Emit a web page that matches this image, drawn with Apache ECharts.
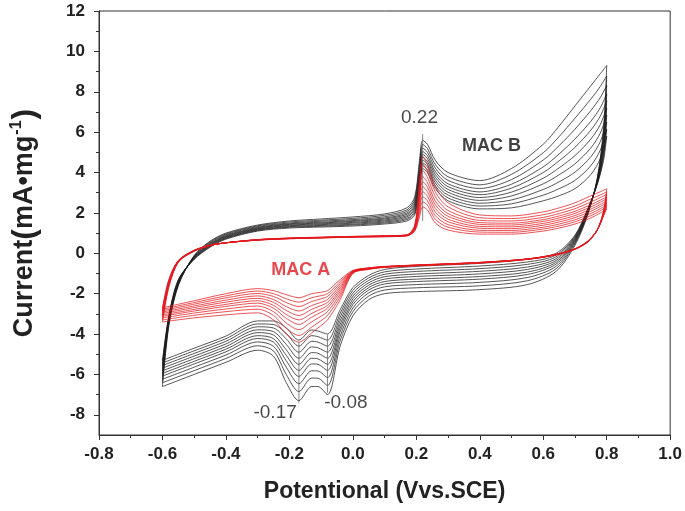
<!DOCTYPE html>
<html>
<head>
<meta charset="utf-8">
<script src="https://cdn.jsdelivr.net/npm/echarts@6/dist/echarts.min.js"></script>
<style>
html,body{margin:0;padding:0;background:#fff;}
#chart{width:685px;height:511px;}
</style>
</head>
<body>
<div id="chart"></div>
<script>
// Potential values (V vs. SCE) for the anodic (forward) and cathodic (reverse) sweeps
const potentialForward = [-0.6,-0.58,-0.55,-0.5,-0.45,-0.4,-0.3,-0.2,-0.1,0.0,0.1,0.17,0.195,0.21,0.22,0.235,0.26,0.3,0.4,0.5,0.6,0.65,0.7,0.75,0.78,0.8];
const potentialReverse = [0.8,0.79,0.77,0.74,0.7,0.64,0.55,0.4,0.2,0.1,0.05,0.0,-0.04,-0.08,-0.11,-0.13,-0.17,-0.21,-0.25,-0.3,-0.4,-0.5,-0.6];

// MAC B currents (mA/mg), one row per cycle, forward sweep
const macBForward = [
[-5.3,-3.1,-1.3,-0.3,0.3,0.7,1.1,1.25,1.3,1.35,1.45,1.6,1.9,3.0,4.2,4.0,3.2,2.6,2.2,2.25,2.6,2.85,3.2,3.9,4.7,5.8],
[-5.43,-3.15,-1.33,-0.28,0.33,0.73,1.13,1.29,1.34,1.4,1.5,1.67,1.99,3.16,4.34,4.14,3.34,2.74,2.34,2.45,2.88,3.2,3.61,4.34,5.12,6.15],
[-5.56,-3.2,-1.36,-0.26,0.36,0.76,1.16,1.32,1.38,1.44,1.55,1.73,2.08,3.32,4.48,4.28,3.48,2.88,2.48,2.64,3.16,3.54,4.02,4.78,5.54,6.5],
[-5.69,-3.25,-1.39,-0.24,0.39,0.79,1.19,1.36,1.42,1.49,1.6,1.8,2.17,3.48,4.62,4.42,3.62,3.02,2.62,2.84,3.44,3.89,4.43,5.22,5.96,6.85],
[-5.82,-3.3,-1.42,-0.22,0.42,0.82,1.22,1.39,1.46,1.53,1.65,1.86,2.26,3.64,4.76,4.56,3.76,3.16,2.76,3.03,3.72,4.23,4.84,5.66,6.38,7.2],
[-5.95,-3.35,-1.45,-0.2,0.45,0.85,1.25,1.43,1.5,1.58,1.7,1.93,2.35,3.8,4.9,4.7,3.9,3.3,2.9,3.23,4.0,4.58,5.25,6.1,6.8,7.55],
[-6.08,-3.4,-1.48,-0.18,0.48,0.88,1.28,1.46,1.54,1.62,1.75,1.99,2.44,3.96,5.04,4.84,4.04,3.44,3.04,3.42,4.28,4.92,5.66,6.54,7.22,7.9],
[-6.24,-3.46,-1.52,-0.16,0.52,0.92,1.32,1.5,1.59,1.67,1.81,2.07,2.55,4.15,5.21,5.01,4.21,3.61,3.21,3.65,4.62,5.33,6.15,7.07,7.72,8.32],
[-6.41,-3.53,-1.56,-0.13,0.56,0.96,1.36,1.55,1.64,1.73,1.88,2.15,2.67,4.36,5.39,5.19,4.39,3.79,3.39,3.91,4.98,5.78,6.69,7.64,8.27,8.78],
[-6.6,-3.6,-1.6,-0.1,0.6,1.0,1.4,1.6,1.7,1.8,1.95,2.25,2.8,4.6,5.6,5.4,4.6,4.0,3.6,4.2,5.4,6.3,7.3,8.3,8.9,9.3]
];
// MAC B currents, reverse sweep
const macBReverse = [
[5.8,4.6,3.4,2.2,0.9,0.0,-0.3,-0.5,-0.65,-0.8,-1.1,-1.7,-2.8,-4.0,-3.85,-3.8,-4.3,-3.7,-3.35,-3.35,-4.1,-4.7,-5.3],
[6.15,4.76,3.43,2.17,0.85,-0.09,-0.43,-0.63,-0.78,-0.92,-1.22,-1.84,-2.98,-4.3,-4.13,-4.08,-4.6,-3.97,-3.53,-3.5,-4.23,-4.83,-5.43],
[6.5,4.92,3.46,2.14,0.8,-0.18,-0.55,-0.76,-0.9,-1.04,-1.34,-1.98,-3.16,-4.6,-4.4,-4.36,-4.9,-4.24,-3.7,-3.64,-4.36,-4.96,-5.56],
[6.85,5.08,3.49,2.11,0.75,-0.27,-0.68,-0.89,-1.03,-1.16,-1.46,-2.12,-3.34,-4.9,-4.68,-4.64,-5.2,-4.51,-3.88,-3.79,-4.49,-5.09,-5.69],
[7.2,5.24,3.52,2.08,0.7,-0.36,-0.8,-1.02,-1.15,-1.28,-1.58,-2.26,-3.52,-5.2,-4.95,-4.92,-5.5,-4.78,-4.05,-3.93,-4.62,-5.22,-5.82],
[7.55,5.4,3.55,2.05,0.65,-0.45,-0.93,-1.15,-1.28,-1.4,-1.7,-2.4,-3.7,-5.5,-5.23,-5.2,-5.8,-5.05,-4.23,-4.08,-4.75,-5.35,-5.95],
[7.9,5.56,3.58,2.02,0.6,-0.54,-1.05,-1.28,-1.4,-1.52,-1.82,-2.54,-3.88,-5.8,-5.5,-5.48,-6.1,-5.32,-4.4,-4.22,-4.88,-5.48,-6.08],
[8.32,5.75,3.62,1.98,0.54,-0.65,-1.2,-1.44,-1.55,-1.66,-1.96,-2.71,-4.1,-6.16,-5.83,-5.82,-6.46,-5.64,-4.61,-4.39,-5.04,-5.64,-6.24],
[8.78,5.96,3.66,1.95,0.48,-0.77,-1.36,-1.61,-1.71,-1.82,-2.12,-2.89,-4.33,-6.55,-6.19,-6.18,-6.85,-6.0,-4.84,-4.58,-5.21,-5.81,-6.41],
[9.3,6.2,3.7,1.9,0.4,-0.9,-1.55,-1.8,-1.9,-2.0,-2.3,-3.1,-4.6,-7.0,-6.6,-6.6,-7.3,-6.4,-5.1,-4.8,-5.4,-6.0,-6.6]
];
// MAC A currents, forward sweep
const macAForward = [
[-2.7,-1.3,-0.35,0.15,0.4,0.52,0.65,0.72,0.76,0.8,0.82,0.86,1.1,1.8,2.3,2.15,1.5,1.15,0.95,0.95,1.1,1.25,1.45,1.75,2.0,2.2],
[-2.77,-1.34,-0.36,0.15,0.4,0.52,0.65,0.72,0.76,0.8,0.82,0.87,1.13,1.98,2.55,2.38,1.68,1.29,1.05,1.04,1.2,1.35,1.56,1.86,2.11,2.3],
[-2.84,-1.38,-0.37,0.14,0.4,0.52,0.66,0.73,0.77,0.81,0.83,0.87,1.16,2.16,2.8,2.6,1.86,1.42,1.14,1.13,1.29,1.45,1.66,1.97,2.21,2.4],
[-2.91,-1.42,-0.38,0.14,0.39,0.52,0.66,0.73,0.77,0.81,0.84,0.88,1.19,2.34,3.05,2.83,2.04,1.56,1.24,1.22,1.39,1.55,1.77,2.08,2.32,2.5],
[-2.98,-1.46,-0.39,0.13,0.39,0.52,0.66,0.74,0.78,0.82,0.84,0.88,1.22,2.52,3.3,3.05,2.22,1.69,1.33,1.31,1.48,1.65,1.87,2.19,2.42,2.6],
[-3.05,-1.5,-0.4,0.13,0.39,0.52,0.67,0.74,0.78,0.82,0.85,0.89,1.25,2.7,3.55,3.28,2.4,1.83,1.43,1.4,1.58,1.75,1.98,2.3,2.53,2.7],
[-3.12,-1.54,-0.41,0.12,0.39,0.52,0.67,0.74,0.78,0.82,0.85,0.9,1.28,2.88,3.8,3.5,2.58,1.96,1.52,1.49,1.67,1.85,2.08,2.41,2.63,2.8],
[-3.2,-1.59,-0.42,0.11,0.39,0.52,0.67,0.75,0.79,0.83,0.86,0.9,1.32,3.1,4.1,3.77,2.8,2.12,1.63,1.6,1.78,1.97,2.21,2.54,2.76,2.92],
[-3.3,-1.64,-0.44,0.11,0.38,0.52,0.68,0.75,0.79,0.83,0.86,0.91,1.36,3.33,4.43,4.06,3.03,2.3,1.76,1.72,1.91,2.1,2.34,2.69,2.89,3.05],
[-3.4,-1.7,-0.45,0.1,0.38,0.52,0.68,0.76,0.8,0.84,0.87,0.92,1.4,3.6,4.8,4.4,3.3,2.5,1.9,1.85,2.05,2.25,2.5,2.85,3.05,3.2]
];
// MAC A currents, reverse sweep
const macAReverse = [
[2.2,1.85,1.15,0.6,0.22,-0.05,-0.28,-0.45,-0.58,-0.65,-0.72,-0.85,-1.3,-1.85,-1.95,-2.0,-2.2,-2.05,-1.85,-1.75,-2.0,-2.35,-2.7],
[2.3,1.88,1.15,0.6,0.22,-0.05,-0.28,-0.45,-0.58,-0.66,-0.73,-0.87,-1.4,-2.0,-2.13,-2.2,-2.42,-2.25,-2.0,-1.87,-2.11,-2.44,-2.77],
[2.4,1.9,1.15,0.59,0.22,-0.06,-0.28,-0.46,-0.59,-0.66,-0.74,-0.88,-1.5,-2.14,-2.3,-2.39,-2.64,-2.44,-2.14,-1.99,-2.21,-2.52,-2.84],
[2.5,1.93,1.15,0.59,0.21,-0.06,-0.29,-0.46,-0.59,-0.67,-0.74,-0.9,-1.6,-2.29,-2.48,-2.59,-2.86,-2.64,-2.29,-2.11,-2.32,-2.61,-2.91],
[2.6,1.95,1.15,0.58,0.21,-0.06,-0.29,-0.46,-0.6,-0.67,-0.75,-0.91,-1.7,-2.43,-2.65,-2.78,-3.08,-2.83,-2.43,-2.23,-2.42,-2.69,-2.98],
[2.7,1.98,1.15,0.58,0.21,-0.07,-0.29,-0.47,-0.6,-0.68,-0.76,-0.93,-1.8,-2.58,-2.83,-2.98,-3.3,-3.03,-2.58,-2.35,-2.53,-2.78,-3.05],
[2.8,2.0,1.15,0.57,0.21,-0.07,-0.29,-0.47,-0.6,-0.68,-0.77,-0.94,-1.9,-2.72,-3.0,-3.17,-3.52,-3.22,-2.72,-2.47,-2.63,-2.86,-3.12],
[2.92,2.03,1.15,0.56,0.21,-0.07,-0.29,-0.47,-0.61,-0.69,-0.78,-0.96,-2.02,-2.89,-3.21,-3.4,-3.78,-3.45,-2.89,-2.61,-2.76,-2.96,-3.2],
[3.05,2.06,1.15,0.56,0.2,-0.08,-0.3,-0.48,-0.61,-0.69,-0.79,-0.98,-2.15,-3.08,-3.44,-3.66,-4.07,-3.71,-3.08,-2.77,-2.89,-3.07,-3.3],
[3.2,2.1,1.15,0.55,0.2,-0.08,-0.3,-0.48,-0.62,-0.7,-0.8,-1.0,-2.3,-3.3,-3.7,-3.95,-4.4,-4.0,-3.3,-2.95,-3.05,-3.2,-3.4]
];

// Peak annotations
const peakPotentials = [0.22, -0.17, -0.08];
const peakLineTop = [5.9, -4.4, -4.05];
const peakLineBottom = [1.6, -7.4, -6.9];
const peakLabels = ['0.22', '-0.17', '-0.08'];
const peakLabelX = [0.21, -0.245, -0.022];
const peakLabelY = [6.7, -7.9, -7.4];
// Curve labels
const curveNames = ['MAC B', 'MAC A'];
const curveLabelX = [0.437, -0.164];
const curveLabelY = [5.3, -0.82];

// Axis tick values
const yMajorTicks = [-8,-6,-4,-2,0,2,4,6,8,10,12];
const yMinorTicks = [-7,-5,-3,-1,1,3,5,7,9,11];

const BLACK = '#1c1c1c';
const RED = '#e3191f';
const FONT = '"Liberation Sans", Arial, sans-serif';

function pairs(xs, ys) { return xs.map((x, i) => [x, ys[i]]); }

const series = [];
function addCycles(fwd, rev, color, name) {
  fwd.forEach((row, i) => {
    series.push({type: 'line', name: name, data: pairs(potentialForward, row), showSymbol: false,
      smooth: 0.3, lineStyle: {color: color, width: 0.75}, silent: true});
    series.push({type: 'line', name: name, data: pairs(potentialReverse, rev[i]), showSymbol: false,
      smooth: 0.3, lineStyle: {color: color, width: 0.75}, silent: true});
  });
}
addCycles(macBForward, macBReverse, BLACK, 'MAC B');
addCycles(macAForward, macAReverse, RED, 'MAC A');

peakPotentials.forEach((p, i) => {
  series.push({type: 'line', data: [[p, peakLineTop[i]], [p, peakLineBottom[i]]], showSymbol: false,
    lineStyle: {color: '#666', width: 0.8}, z: 5, silent: true});
});
series.push({type: 'scatter', symbolSize: 0, z: 6, silent: true,
  data: peakLabels.map((t, i) => ({name: t, value: [peakLabelX[i], peakLabelY[i]]})),
  label: {show: true, position: 'inside', formatter: p => p.name, color: '#1a1a1a',
    fontFamily: FONT, fontSize: 19, fontWeight: 'normal'}});
series.push({type: 'scatter', symbolSize: 0, z: 6, silent: true,
  data: curveNames.map((t, i) => ({name: t, value: [curveLabelX[i], curveLabelY[i]],
    label: {color: i === 0 ? '#111' : RED}})),
  label: {show: true, position: 'inside', formatter: p => p.name,
    fontFamily: FONT, fontSize: 18, fontWeight: 'bold'}});

const chart = echarts.init(document.getElementById('chart'), null, {renderer: 'canvas'});
chart.setOption({
  animation: false,
  backgroundColor: '#fff',
  grid: {left: 99, right: 13, top: 11, bottom: 76, show: true, borderColor: '#333', borderWidth: 1},
  xAxis: {
    type: 'value', min: -0.8, max: 1.0, interval: 0.2,
    name: 'Potentional (Vvs.SCE)', nameLocation: 'middle', nameGap: 45,
    nameTextStyle: {fontFamily: FONT, fontSize: 23, fontWeight: 'bold', color: '#222'},
    axisLine: {show: true, onZero: false, lineStyle: {color: '#333', width: 1}},
    axisTick: {show: true, inside: false, length: 5, lineStyle: {color: '#333'}},
    minorTick: {show: true, splitNumber: 2, length: 3, lineStyle: {color: '#333'}},
    splitLine: {show: false},
    axisLabel: {margin: 11, fontFamily: FONT, fontSize: 17, fontWeight: 'bold', color: '#222',
      formatter: v => (Math.abs(v) < 1e-9 ? 0 : v).toFixed(1)}
  },
  yAxis: [{
    type: 'value', min: -9, max: 12,
    name: '{a|Current}{p|(}{a|mA•mg}{s|-1}{p|)}', nameLocation: 'middle', nameGap: 58,
    nameTextStyle: {color: '#222', rich: {
      a: {fontFamily: FONT, fontSize: 27, fontWeight: 'bold', color: '#222'},
      p: {fontFamily: FONT, fontSize: 32, fontWeight: 'bold', color: '#222'},
      s: {fontFamily: FONT, fontSize: 16, fontWeight: 'bold', color: '#222', verticalAlign: 'top', padding: [0, 1, 0, 1]}
    }},
    axisLine: {show: true, onZero: false, lineStyle: {color: '#333', width: 1}},
    axisTick: {show: true, inside: false, length: 5, customValues: yMajorTicks, lineStyle: {color: '#333'}},
    splitLine: {show: false},
    axisLabel: {margin: 14, customValues: yMajorTicks, fontFamily: FONT, fontSize: 17, fontWeight: 'bold', color: '#222'}
  }, {
    type: 'value', min: -9, max: 12, position: 'left',
    axisLine: {show: false, onZero: false},
    axisTick: {show: true, inside: false, length: 3, customValues: yMinorTicks, lineStyle: {color: '#333'}},
    axisLabel: {show: false},
    splitLine: {show: false}
  }],
  series: series
});
</script>
</body>
</html>
